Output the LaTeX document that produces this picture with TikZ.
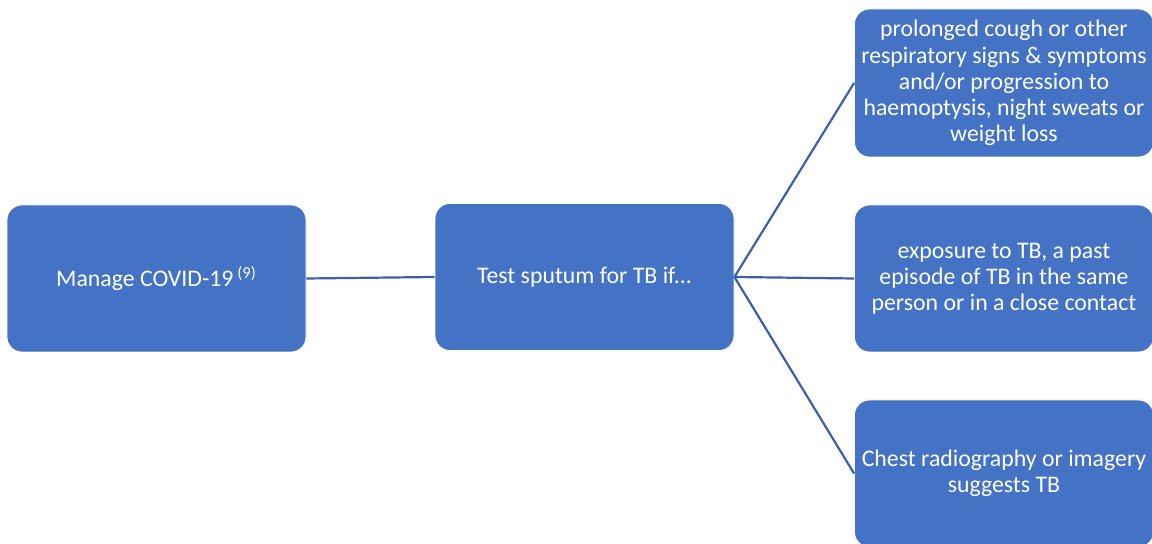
\documentclass[tikz,border=0pt]{standalone}
\usepackage{fontspec}
\setmainfont{Carlito}
\usepackage{tikz}

\definecolor{boxblue}{HTML}{4472C4}
\definecolor{lineblue}{HTML}{3A60AA}

\tikzset{
  box/.style={draw=white, line width=0.4pt, fill=boxblue, rounded corners=7.5pt,
    text=white, minimum width=149.5pt, minimum height=73.5pt,
    align=center, inner xsep=0pt, inner ysep=1pt, font=\fontsize{11.9}{13.1}\selectfont},
  link/.style={draw=lineblue, line width=1.1pt}
}

\begin{document}
\begin{tikzpicture}[x=0.5pt, y=-0.5pt]
\clip (0,0) rectangle (1152,544);

\node (covid) at (156.5, 278.5) [box]{Manage COVID-19\textsuperscript{ (9)}};
\node (test) at (584.5, 277) [box]{Test sputum for TB if...};

\node (cough) at (1004, 83) [box, minimum height=74pt]{prolonged cough or other\\respiratory signs \& symptoms\\and/or progression to\\haemoptysis, night sweats or\\weight loss};
\node (exposure) at (1004, 278.5) [box]{exposure to TB, a past\\episode of TB in the same\\person or in a close contact};
\node (chest) at (1004, 473.5) [box]{Chest radiography or imagery\\suggests TB};

\draw [link] (covid.east) -- (test.west);

\draw [link] (test.east) -- (cough.west);
\draw [link] (test.east) -- (exposure.west);
\draw [link] (test.east) -- (chest.west);

\end{tikzpicture}
\end{document}
